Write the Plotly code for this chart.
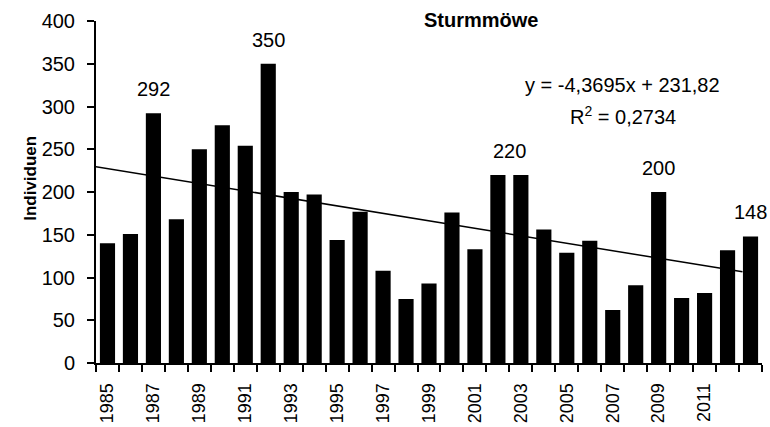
import plotly.graph_objects as go

# Sturmmöwe counts per year
years = list(range(1985, 2014))
counts = [140, 151, 292, 168, 250, 278, 254, 350, 200, 197, 144, 177, 108, 75, 93,
          176, 133, 220, 220, 156, 129, 143, 62, 91, 200, 76, 82, 132, 148]

# linear trend (x = running index of the year)
slope = -4.3695
intercept = 231.82
r_squared = 0.2734
trend_x = [0.33, 28.65]

# labelled years (label between the two 2002/2003 bars)
label_positions = [(3, 292), (8, 350), (18.5, 220), (25, 200), (29, 148)]

xs = list(range(1, len(years) + 1))
FONT = "Liberation Sans, Arial, sans-serif"

fig = go.Figure()
fig.add_trace(go.Bar(x=xs, y=counts, marker=dict(color="black", line=dict(width=0)),
                     showlegend=False))
fig.add_trace(go.Scatter(x=trend_x, y=[intercept + slope * t for t in trend_x],
                         mode="lines", line=dict(color="black", width=1.5),
                         showlegend=False))

ann = []
for x, v in label_positions:
    ann.append(dict(x=x, y=v, xref="x", yref="y", text=str(v), showarrow=False,
                    yshift=24, font=dict(size=20, color="black", family=FONT)))

def fmt(v):
    return str(v).replace(".", ",")

ann.append(dict(x=23.44, y=325, xref="x", yref="y", showarrow=False,
                text=f"y = {fmt(slope)}x + {fmt(intercept)}",
                font=dict(size=20, color="black", family=FONT)))
ann.append(dict(x=23.44, y=290, xref="x", yref="y", showarrow=False,
                text=f"R<sup>2</sup> = {fmt(r_squared)}",
                font=dict(size=20, color="black", family=FONT)))
ann.append(dict(x=0.578, y=1.003, xref="paper", yref="paper", showarrow=False,
                text="<b>Sturmmöwe</b>", yanchor="middle",
                font=dict(size=20, color="black", family=FONT)))
ann.append(dict(x=-0.1156, y=216, xref="paper", yref="y", showarrow=False,
                text="<b>Individuen</b>", textangle=-90,
                font=dict(size=17, color="black", family=FONT)))

fig.update_layout(
    width=770, height=427,
    margin=dict(l=96, r=8, t=21, b=64, autoexpand=False),
    paper_bgcolor="white", plot_bgcolor="white",
    bargap=0.34,
    annotations=ann,
    font=dict(family=FONT, color="black"),
    xaxis=dict(
        range=[0.5, 29.5], showgrid=False, zeroline=False, automargin=False,
        showline=True, linecolor="black", linewidth=2,
        tickvals=xs[::2][:-1], ticktext=[str(y) for y in years[::2][:-1]],
        tickangle=-90, ticks="", ticklabelstandoff=11,
        tickfont=dict(size=18, color="black", family=FONT),
        minor=dict(tick0=0.5, dtick=1, ticks="outside", ticklen=7,
                   tickwidth=2, tickcolor="black", showgrid=False),
    ),
    yaxis=dict(
        range=[0, 400], dtick=50, showgrid=False, zeroline=False, automargin=False,
        showline=True, linecolor="black", linewidth=2,
        ticks="outside", ticklen=7, tickwidth=2, tickcolor="black",
        ticklabelstandoff=8,
        tickfont=dict(size=20, color="black", family=FONT),
    ),
)

fig.write_html("out.html")
